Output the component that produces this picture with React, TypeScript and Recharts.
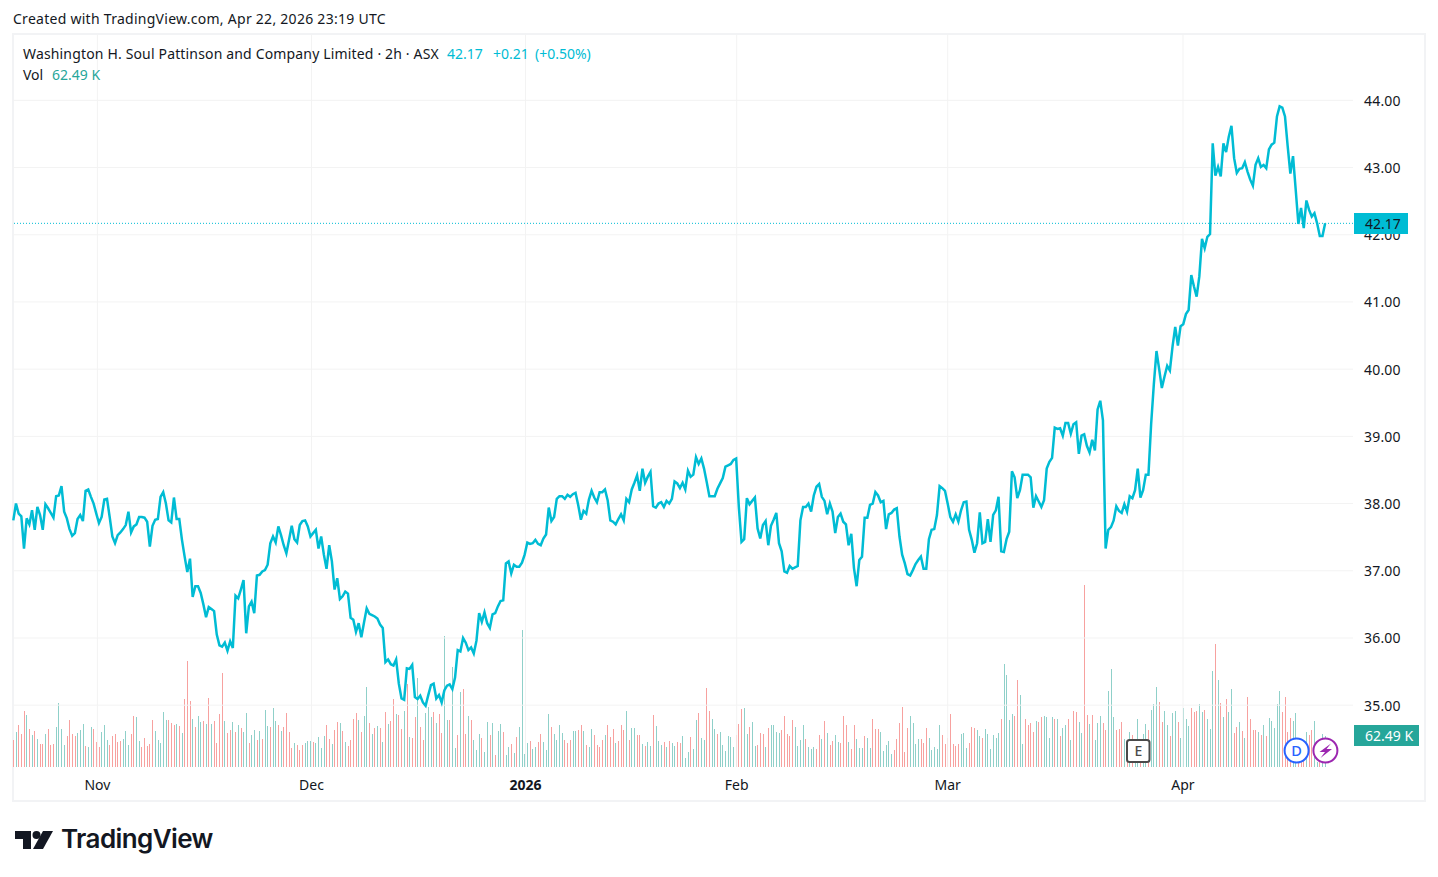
import React from "react";
import {
  Bar,
  Cell,
  ComposedChart,
  Line,
  ReferenceLine,
  XAxis,
  YAxis,
} from "recharts";

// 2h closes
const closes = [
  37.75, 38.0, 37.85, 37.81, 37.33, 37.78, 37.69, 37.9, 37.61, 37.95,
  37.83, 37.61, 37.99, 37.93, 37.86, 37.79, 38.11, 38.12, 38.26, 37.88,
  37.78, 37.62, 37.52, 37.56, 37.77, 37.83, 37.74, 38.19, 38.21, 38.1,
  38.0, 37.85, 37.71, 37.8, 38.06, 38.07, 37.8, 37.51, 37.41, 37.53,
  37.57, 37.62, 37.68, 37.88, 37.57, 37.66, 37.69, 37.8, 37.8, 37.79,
  37.73, 37.36, 37.67, 37.76, 37.77, 38.1, 38.17, 38.0, 37.75, 37.72,
  38.09, 37.77, 37.77, 37.46, 37.21, 36.98, 37.18, 36.61, 36.77, 36.77,
  36.67, 36.5, 36.31, 36.46, 36.43, 36.4, 36.05, 35.89, 35.87, 35.93,
  35.81, 35.95, 35.85, 36.63, 36.59, 36.72, 36.86, 36.07, 36.47, 36.54,
  36.37, 36.93, 36.94, 36.99, 37.01, 37.09, 37.41, 37.51, 37.42, 37.66,
  37.53, 37.38, 37.26, 37.46, 37.67, 37.47, 37.42, 37.68, 37.74, 37.75,
  37.66, 37.51, 37.56, 37.61, 37.33, 37.51, 37.24, 37.03, 37.38, 37.14,
  36.72, 36.89, 36.58, 36.62, 36.69, 36.66, 36.3, 36.27, 36.09, 36.22,
  36.01, 36.23, 36.44, 36.36, 36.34, 36.32, 36.29, 36.2, 36.15, 35.64,
  35.68, 35.61, 35.59, 35.68, 35.32, 35.1, 35.08, 35.55, 35.54, 35.6,
  35.12, 35.09, 35.14, 35.04, 34.99, 35.15, 35.3, 35.32, 35.1, 35.15,
  35.04, 35.22, 35.29, 35.31, 35.24, 35.41, 35.82, 35.8, 36.0, 35.93,
  35.82, 35.86, 35.77, 35.96, 36.37, 36.24, 36.38, 36.22, 36.15, 36.35,
  36.37, 36.47, 36.55, 36.56, 37.11, 37.14, 36.96, 37.09, 37.06, 37.06,
  37.12, 37.24, 37.42, 37.4, 37.41, 37.46, 37.4, 37.38, 37.48, 37.54,
  37.94, 37.74, 37.8, 38.07, 38.11, 38.11, 38.07, 38.13, 38.1, 38.14,
  38.16, 37.98, 37.76, 37.89, 37.85, 38.06, 38.19, 38.09, 38.02, 38.17,
  38.17, 38.21, 38.05, 37.75, 37.73, 37.69, 37.77, 37.84, 37.75, 38.07,
  38.02, 38.21, 38.31, 38.42, 38.19, 38.52, 38.31, 38.4, 38.47, 37.96,
  37.94, 38.0, 38.02, 37.95, 38.04, 38.0, 38.07, 38.33, 38.3, 38.23,
  38.31, 38.21, 38.49, 38.4, 38.43, 38.69, 38.59, 38.67, 38.52, 38.32,
  38.11, 38.11, 38.11, 38.22, 38.3, 38.38, 38.55, 38.57, 38.59, 38.65,
  38.67, 37.95, 37.43, 37.47, 38.08, 37.99, 38.04, 38.09, 37.63, 37.48,
  37.68, 37.74, 37.38, 37.67, 37.76, 37.86, 37.41, 37.29, 36.99, 36.97,
  37.07, 37.03, 37.05, 37.07, 37.75, 37.95, 37.95, 38.0, 37.88, 38.12,
  38.25, 38.29, 38.1, 38.04, 37.84, 38.0, 37.88, 37.56, 37.8, 37.85,
  37.73, 37.69, 37.38, 37.55, 37.04, 36.77, 37.16, 37.21, 37.79, 37.79,
  37.98, 38.0, 38.17, 38.12, 38.02, 38.04, 37.62, 37.84, 37.86, 37.91,
  37.93, 37.51, 37.24, 37.11, 36.95, 36.93, 37.01, 37.1, 37.16, 37.21,
  37.03, 37.03, 37.47, 37.61, 37.62, 37.83, 38.26, 38.23, 38.19, 38.0,
  37.8, 37.73, 37.84, 37.73, 37.9, 38.02, 38.03, 37.61, 37.46, 37.27,
  37.41, 37.87, 37.41, 37.43, 37.77, 37.43, 37.83, 37.9, 38.1, 37.29,
  37.28, 37.47, 37.58, 38.48, 38.39, 38.08, 38.2, 38.43, 38.43, 38.43,
  38.39, 37.94, 38.11, 38.03, 37.95, 38.05, 38.52, 38.62, 38.68, 39.13,
  39.11, 39.12, 39.01, 39.2, 39.2, 39.04, 39.18, 39.21, 38.74, 39.01,
  39.03, 38.86, 38.76, 38.95, 38.79, 39.4, 39.53, 39.24, 37.33,
  37.61, 37.65, 37.75, 37.96, 37.89, 37.86, 37.99, 37.88, 38.11, 38.08,
  38.2, 38.52, 38.09, 38.2, 38.43, 38.43, 39.18, 39.77, 40.27, 40.0, 39.72,
  39.89, 40.05, 39.98, 40.34, 40.63, 40.35, 40.64, 40.67, 40.82, 40.88,
  41.4, 41.23, 41.08, 41.38, 41.94, 41.8, 41.97, 42.01, 43.36, 42.88,
  43.01, 42.87, 43.36, 43.23, 43.46, 43.62, 43.14, 42.92, 42.98, 42.99,
  43.08, 42.94, 42.82, 42.73, 43.04, 43.14, 43.01, 43.04, 42.99, 43.27,
  43.34, 43.37, 43.76, 43.91, 43.89, 43.76, 43.32, 42.91, 43.17, 42.67,
  42.16, 42.4, 42.1, 42.51, 42.37, 42.27, 42.32, 42.17, 41.98, 41.98,
  42.17,
];

// volume in thousands, sign = bar colour (negative is a down bar)
const volumes = [
  -53, 69, -83, -65, -112, 104, -75, 63, -71, 55,
  -45, -45, 65, -75, -43, -45, 79, 128, 75, 43,
  -61, -93, -65, -61, 67, 73, 85, -41, 39, 79,
  -75, -49, -39, 69, 83, 53, -43, -61, -65, -49,
  -51, 55, 71, 43, -65, -102, 100, 51, -39, -57,
  -41, -45, -94, 71, 53, 47, 110, 94, -93, -87,
  -83, 85, -81, 67, -134, -211, -132, 96, -79, 102,
  89, -91, 85, -136, 85, -91, -47, -106, -187, 91,
  -67, -73, 89, -69, 83, -77, 69, 108, -47, 63,
  73, -53, 71, -55, 114, 81, -79, 118, 91, -83,
  71, -79, -108, -69, -37, 47, -43, -33, -43, 47,
  51, 51, -49, 47, 59, 37, 61, -83, -55, 45,
  -73, -89, 87, -71, 49, -41, -53, -96, -108, 94,
  -69, 102, 158, -87, 65, -77, 81, -77, 49, -110,
  85, -91, -134, 106, -104, -75, 112, -164, 59, -57,
  -100, 176, -79, -53, 108, 120, 100, -110, 87, -106,
  -67, 261, 93, -94, 199, 37, -63,
  148, -154, -65, 102, -94, 53, 33, 65, -57, 29,
  90, -63, 88, -23, 71, 86, -69, 23, 39, -45,
  27, -59, 79, 271, 25, 47, -51, 35, 39, -49,
  -65, 49, 33, 106, -79, 65, 53, 83, 67, -53,
  -47, -53, 71, 71, -73, -83, 71, -43, 39, 75,
  -63, -43, -39, -53, 63, -83, -59, -75, 47, -51,
  -83, -73, 112, -53, 77, 77, -63, -63, 45, -41,
  49, 41, -104, 81, 51, 43, -49, 39, -51, 47,
  41, -49, -47, 61, 17, 29, -59, 35, 94, -108,
  57, 53, -156, -112, 96, 75, -65, 69, 43,
  31, 61, 59, 39, -63, -86, -116, 118, 65, -79,
  90, 41, -43, -67, -65, 39, -77, 83, 83, 69,
  67, -73, -102, -65, -61, -94, 79, 41, 53, 83,
  -55, 39, 35, 39, -35, -63, 55, -92, 67,
  -43, -51, 63, 49, -47, -102, -83, 49, -35, -84,
  55, 37, 37, -61, 57, 37, -96, -75, -75, 69,
  31, 43, 51, 25, -33, -55, -88, -120, -29, -77,
  102, 88, 45, 55,
  -55, -47, -77, 57, 33, 39, 35, 83, -63, -45,
  -57, -106, -45, -41, -45, 65, 67, 37, -47, -79,
  -77, 73, 61, -57, 75, 65, 35, 63, 57, 67,
  -95, 204, 182, 93, 106, -102, -172, 142, 45, -96,
  -83, -87, -69, 91, -89, -100, 102, 100, 57,
  100, -95, 96, -61, 77, 83, -95, 53, -112, -110,
  89, 67, -362, -104, 85, -104, 53, 87, 102, -87,
  -73, 150, 194, 100, -73, -75, -89, 55, -53, 69,
  -63, 33, 95, -33, 65, 85, -73, 114, 126, 158,
  -130, -89, 112, 83, -61, 108, 112, -89, 57, 118,
  96, 81, -118, -110, -112, 126,
  110, -114, 96, 75, 190, -245, 172, -128, 100, -134,
  110, 154, -67, -79, 89, -71, 57, -138, -95, -73,
  -73, 69, -63, 83, -61, 98, 91, 77, 126, 150,
  -110, -138, -69, -98, 91, 108, -20, -17, -20, 69,
  -63, -73, 91, 10, -13, 65, 62.49,
];

const priceTicks = [35, 36, 37, 38, 39, 40, 41, 42, 43, 44];
const monthLabels = ["Nov", "Dec", "2026", "Feb", "Mar", "Apr"];
const monthTicks = [31.4, 111.4, 191.3, 270.2, 349, 436.9];

const FONT = "'Noto Sans', sans-serif";
const INK = "#131722";
const CYAN = "#00bcd4";
const TEAL = "#26a69a";
const GRID = "#f3f3f3";

const rows = closes.map((close, i) => ({
  i,
  close,
  vol: Math.abs(volumes[i] ?? 0),
}));

function MonthTick({ x, y, payload }: any) {
  const idx = monthTicks.indexOf(payload.value);
  return (
    <text
      x={x}
      y={y}
      textAnchor="middle"
      dominantBaseline="middle"
      fontFamily={FONT}
      fontSize={14}
      fontWeight={idx === 2 ? 700 : 400}
      fill={INK}
    >
      {monthLabels[idx]}
    </text>
  );
}

function Label({ x, y, color = INK, spacing = 0, children }: any) {
  return (
    <div
      style={{
        position: "absolute",
        left: x,
        top: y,
        color,
        fontSize: 14,
        letterSpacing: spacing,
        lineHeight: "20px",
        whiteSpace: "nowrap",
      }}
    >
      {children}
    </div>
  );
}

export default function App() {
  return (
    <div
      style={{
        position: "absolute",
        left: 0,
        top: 0,
        width: 1438,
        height: 877,
        background: "#fff",
        fontFamily: FONT,
        overflow: "hidden",
      }}
    >
      <div
        style={{
          position: "absolute",
          left: 12,
          top: 33,
          width: 1410,
          height: 765,
          border: "2px solid #f2f3f5",
        }}
      />
      <ComposedChart
        width={1438}
        height={877}
        data={rows}
        margin={{ top: 34.5, right: 13, bottom: 76, left: 13 }}
        style={{ position: "absolute", left: 0, top: 0 }}
      >
        <XAxis
          dataKey="i"
          type="number"
          domain={[-0.11, 500.4]}
          ticks={monthTicks}
          tick={<MonthTick />}
          tickLine={false}
          axisLine={false}
          height={34}
          tickMargin={13}
          interval={0}
        />
        <YAxis
          yAxisId="price"
          orientation="right"
          domain={[34.08, 44.98]}
          ticks={priceTicks}
          tickFormatter={(v: number) => v.toFixed(2)}
          tick={{ fill: INK, fontSize: 14, fontFamily: FONT, dy: 0.5, letterSpacing: 0.2 }}
          tickLine={false}
          axisLine={false}
          width={72}
          tickMargin={5}
          interval={0}
        />
        <YAxis yAxisId="vol" hide domain={[0, 1454]} />
        {monthTicks.map((t) => (
          <ReferenceLine key={t} yAxisId="price" x={t} stroke={GRID} />
        ))}
        {priceTicks.map((t) => (
          <ReferenceLine key={t} yAxisId="price" y={t} stroke={GRID} />
        ))}
        <Bar
          yAxisId="vol"
          dataKey="vol"
          barSize={1}
          shapeRendering="crispEdges"
          isAnimationActive={false}
        >
          {rows.map((r) => (
            <Cell
              key={r.i}
              shapeRendering="crispEdges"
              fill={(volumes[r.i] ?? 0) < 0 ? "#f7a19f" : "#8fd0c9"}
            />
          ))}
        </Bar>
        <ReferenceLine
          yAxisId="price"
          y={42.17}
          stroke={CYAN}
          strokeDasharray="1 2"
        />
        <Line
          yAxisId="price"
          dataKey="close"
          stroke={CYAN}
          strokeWidth={2.5}
          dot={false}
          type="linear"
          isAnimationActive={false}
        />
      </ComposedChart>

      <Label x={13} y={9} spacing={0.27}>Created with TradingView.com, Apr 22, 2026 23:19 UTC</Label>
      <Label x={23} y={44} spacing={0.16}>Washington H. Soul Pattinson and Company Limited · 2h · ASX</Label>
      <Label x={447} y={44} color={CYAN}>42.17</Label>
      <Label x={493} y={44} color={CYAN}>+0.21</Label>
      <Label x={535} y={44} color={CYAN}>(+0.50%)</Label>
      <Label x={23} y={65}>Vol</Label>
      <Label x={52} y={65} color={TEAL}>62.49 K</Label>

      <div
        style={{
          position: "absolute",
          left: 1354,
          top: 213,
          width: 54,
          height: 21,
          boxSizing: "border-box",
          paddingLeft: 11,
          background: CYAN,
          color: INK,
          fontSize: 14,
          lineHeight: "21px",
        }}
      >
        42.17
      </div>
      <div
        style={{
          position: "absolute",
          left: 1354,
          top: 725,
          width: 65,
          height: 21,
          boxSizing: "border-box",
          paddingLeft: 11,
          background: TEAL,
          color: "#fff",
          fontSize: 14,
          lineHeight: "21px",
          whiteSpace: "nowrap",
        }}
      >
        62.49 K
      </div>

      <svg
        width={1438}
        height={877}
        style={{ position: "absolute", left: 0, top: 0, pointerEvents: "none" }}
      >
        <rect x={1127} y={740} width={22.5} height={22} rx={2.5} fill="#fff" stroke="#4a4a4a" strokeWidth={2} />
        <text x={1138.3} y={756} textAnchor="middle" fontFamily={FONT} fontSize={14} fontWeight={500} fill="#4a4a4a">E</text>
        <circle cx={1296.6} cy={750.5} r={12} fill="#fff" stroke="#2962ff" strokeWidth={2} />
        <text x={1296.6} y={755.5} textAnchor="middle" fontFamily={FONT} fontSize={14.5} fontWeight={500} fill="#2962ff">D</text>
        <circle cx={1325.4} cy={750.5} r={12} fill="#fff" stroke="#9c27b0" strokeWidth={2} />
        <path d="M1331 743.5 L1319.5 752 L1325 752 L1320.5 758 L1332 749 L1326.5 749 Z" fill="#9c27b0" />

        <path d="M15 831 H31 V849 H23 V839 H15 Z" fill={INK} />
        <circle cx={36.5} cy={835} r={4} fill={INK} />
        <path d="M43 831 H53 L43 849 H33 Z" fill={INK} />
        <text x={61} y={848} fontFamily="Inter, sans-serif" fontSize={26} fontWeight={600} fill={INK} letterSpacing={-0.6}>TradingView</text>
      </svg>
    </div>
  );
}
